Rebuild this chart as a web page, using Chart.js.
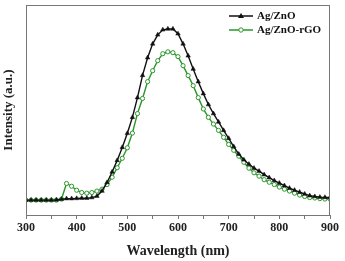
<!DOCTYPE html>
<html>
<head>
<meta charset="utf-8">
<script src="https://cdn.jsdelivr.net/npm/chart.js@4.4.1/dist/chart.umd.min.js"></script>
<style>
html,body{margin:0;padding:0;background:#fff;}
#wrap{width:345px;height:261px;position:relative;}
</style>
</head>
<body>
<div id="wrap"><canvas id="c" width="345" height="261"></canvas></div>
<script>
const wavelengths = [300,310,320,330,340,350,360,370,380,390,400,410,420,430,440,450,460,470,480,490,500,510,520,530,540,550,560,570,580,590,600,610,620,630,640,650,660,670,680,690,700,710,720,730,740,750,760,770,780,790,800,810,820,830,840,850,860,870,880,890,900];
const agZnO = [7.1,7.1,7.1,7.1,7.1,7.1,7.2,7.5,7.8,7.8,7.9,8.0,8.0,8.3,9.0,11.4,15.5,20.5,26.0,32.2,38.9,46.5,55.9,66.5,74.9,81.5,85.8,88.2,88.6,88.6,86.3,81.5,75.8,69.5,63.5,57.8,52.6,48.3,44.3,40.3,36.5,32.6,29.0,26.3,24.2,22.3,20.9,19.2,17.8,16.4,15.2,14.0,12.8,11.8,10.9,10.0,9.2,8.8,8.5,8.4,8.3];
const agZnOrGO = [7.1,7.1,7.1,7.1,7.1,7.1,7.1,7.6,15.0,13.7,11.8,10.7,10.4,10.7,11.4,12.3,14.5,18.0,22.5,27.0,32.0,39.0,48.3,55.5,63.5,68.7,73.5,76.8,77.7,77.3,75.4,71.1,66.4,61.6,55.9,50.5,46.5,43.3,40.3,37.0,33.6,30.8,28.0,25.1,22.3,20.1,18.5,16.8,15.6,14.5,13.3,12.3,11.4,10.4,9.5,8.8,8.3,8.1,7.8,7.6,7.6];
const seriesNames = ['Ag/ZnO','Ag/ZnO-rGO'];
const xTickLabels = [300,400,500,600,700,800,900];

const SERIF = '"Liberation Serif","Times New Roman",serif';
const BLACK = '#111111';
const GREEN = '#2a962a';
const AXIS = '#777777';

const boxPlugin = {
  id:'box',
  afterDraw(chart){
    const {ctx, chartArea:a} = chart;
    ctx.save();
    ctx.strokeStyle = AXIS; ctx.lineWidth = 1;
    ctx.strokeRect(a.left+0.5, a.top+0.5, a.right-a.left-1, a.bottom-a.top);
    // legend
    const ds = chart.data.datasets;
    const x0 = a.right - 101, x1 = a.right - 77, tx = a.right - 73;
    const ys = [a.top + 11, a.top + 25];
    ctx.font = 'bold 11px ' + SERIF;
    ctx.textBaseline = 'middle';
    ds.forEach((d,i)=>{
      const y = ys[i];
      ctx.strokeStyle = d.borderColor; ctx.lineWidth = 1.5;
      ctx.beginPath(); ctx.moveTo(x0,y); ctx.lineTo(x1,y); ctx.stroke();
      const mx = (x0+x1)/2;
      ctx.beginPath();
      if (d.pointStyle === 'triangle'){
        ctx.moveTo(mx, y-3); ctx.lineTo(mx+3, y+2); ctx.lineTo(mx-3, y+2); ctx.closePath();
        ctx.fillStyle = d.pointBackgroundColor; ctx.fill();
      } else {
        ctx.arc(mx, y, 2.2, 0, Math.PI*2);
        ctx.fillStyle = d.pointBackgroundColor; ctx.fill();
        ctx.lineWidth = 1; ctx.strokeStyle = d.pointBorderColor; ctx.stroke();
      }
      ctx.fillStyle = '#111';
      ctx.fillText(seriesNames[i], tx, y+0.5);
    });
    ctx.restore();
  }
};

new Chart(document.getElementById('c'), {
  type:'line',
  data:{
    datasets:[
      {label:seriesNames[0], data: wavelengths.map((w,i)=>({x:w,y:agZnO[i]})),
       borderColor:BLACK, borderWidth:1.4, pointStyle:'triangle', pointRadius:2.6,
       pointBackgroundColor:BLACK, pointBorderColor:BLACK, pointBorderWidth:0.5, tension:0},
      {label:seriesNames[1], data: wavelengths.map((w,i)=>({x:w,y:agZnOrGO[i]})),
       borderColor:GREEN, borderWidth:1.4, pointStyle:'circle', pointRadius:2.1,
       pointBackgroundColor:'#ffffff', pointBorderColor:GREEN, pointBorderWidth:1, tension:0}
    ]
  },
  options:{
    responsive:false, animation:false, devicePixelRatio:1,
    layout:{padding:{top:4,right:15,left:0,bottom:0}},
    plugins:{legend:{display:false}, tooltip:{enabled:false}},
    scales:{
      x:{type:'linear', min:300, max:900,
        afterFit(s){ s.height = 46; },
        ticks:{stepSize:50, autoSkip:false, maxRotation:0, color:'#222', padding:2,
          font:{family:SERIF, weight:'bold', size:12},
          callback:(v)=> xTickLabels.includes(v) ? String(v) : ''},
        grid:{drawOnChartArea:false, drawTicks:true, tickLength:4, color:AXIS},
        border:{display:true, color:AXIS},
        title:{display:true, text:'Wavelength (nm)', color:'#222', padding:{top:0,bottom:1},
          font:{family:SERIF, weight:'bold', size:14}}
      },
      y:{min:0, max:100,
        afterFit(s){ s.width = 26; },
        ticks:{display:false},
        grid:{display:false},
        border:{display:true, color:AXIS},
        title:{display:true, text:'Intensity (a.u.)', color:'#222', padding:{top:1,bottom:0},
          font:{family:SERIF, weight:'bold', size:13}}
      }
    }
  },
  plugins:[boxPlugin]
});
</script>
</body>
</html>
